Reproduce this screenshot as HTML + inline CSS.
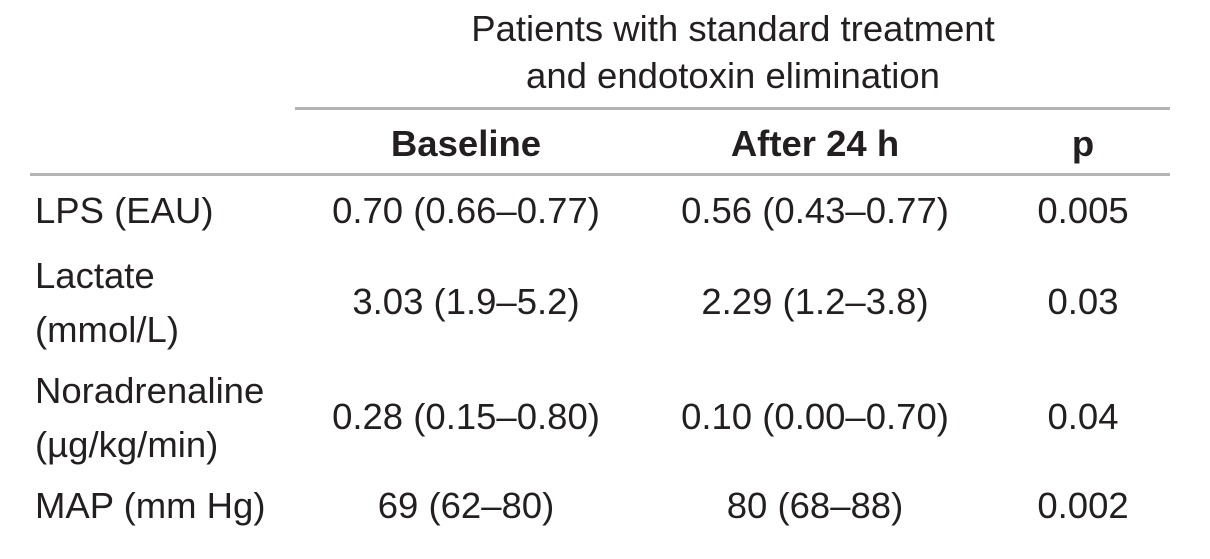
<!DOCTYPE html>
<html><head><meta charset="utf-8"><style>
body{margin:0;width:1210px;height:559px;background:#fff;overflow:hidden;position:relative;font-family:"Liberation Sans",sans-serif;color:#231f20;}
.t{position:absolute;font-size:36.5px;white-space:nowrap;line-height:1;}
.c{transform:translateX(-50%);}
.b{font-weight:bold;}
.line{position:absolute;height:3px;background:#b3b3b3;}
</style></head><body>
<div class="t c" style="left:733px;top:11px">Patients with standard treatment</div>
<div class="t c" style="left:733px;top:58px">and endotoxin elimination</div>
<div class="line" style="left:295px;width:875px;top:107px"></div>
<div class="t c b" style="left:466px;top:126px">Baseline</div>
<div class="t c b" style="left:815px;top:126px">After 24 h</div>
<div class="t c b" style="left:1083px;top:126px">p</div>
<div class="line" style="left:30px;width:1140px;top:173px"></div>

<div class="t" style="left:35px;top:193px">LPS (EAU)</div>
<div class="t c" style="left:466px;top:193px">0.70 (0.66–0.77)</div>
<div class="t c" style="left:815px;top:193px">0.56 (0.43–0.77)</div>
<div class="t c" style="left:1083px;top:193px">0.005</div>

<div class="t" style="left:35px;top:258px">Lactate</div>
<div class="t" style="left:35px;top:312px">(mmol/L)</div>
<div class="t c" style="left:466px;top:284px">3.03 (1.9–5.2)</div>
<div class="t c" style="left:815px;top:284px">2.29 (1.2–3.8)</div>
<div class="t c" style="left:1083px;top:284px">0.03</div>

<div class="t" style="left:35px;top:373px">Noradrenaline</div>
<div class="t" style="left:35px;top:427px">(µg/kg/min)</div>
<div class="t c" style="left:466px;top:399px">0.28 (0.15–0.80)</div>
<div class="t c" style="left:815px;top:399px">0.10 (0.00–0.70)</div>
<div class="t c" style="left:1083px;top:399px">0.04</div>

<div class="t" style="left:35px;top:488px">MAP (mm Hg)</div>
<div class="t c" style="left:466px;top:488px">69 (62–80)</div>
<div class="t c" style="left:815px;top:488px">80 (68–88)</div>
<div class="t c" style="left:1083px;top:488px">0.002</div>
</body></html>
